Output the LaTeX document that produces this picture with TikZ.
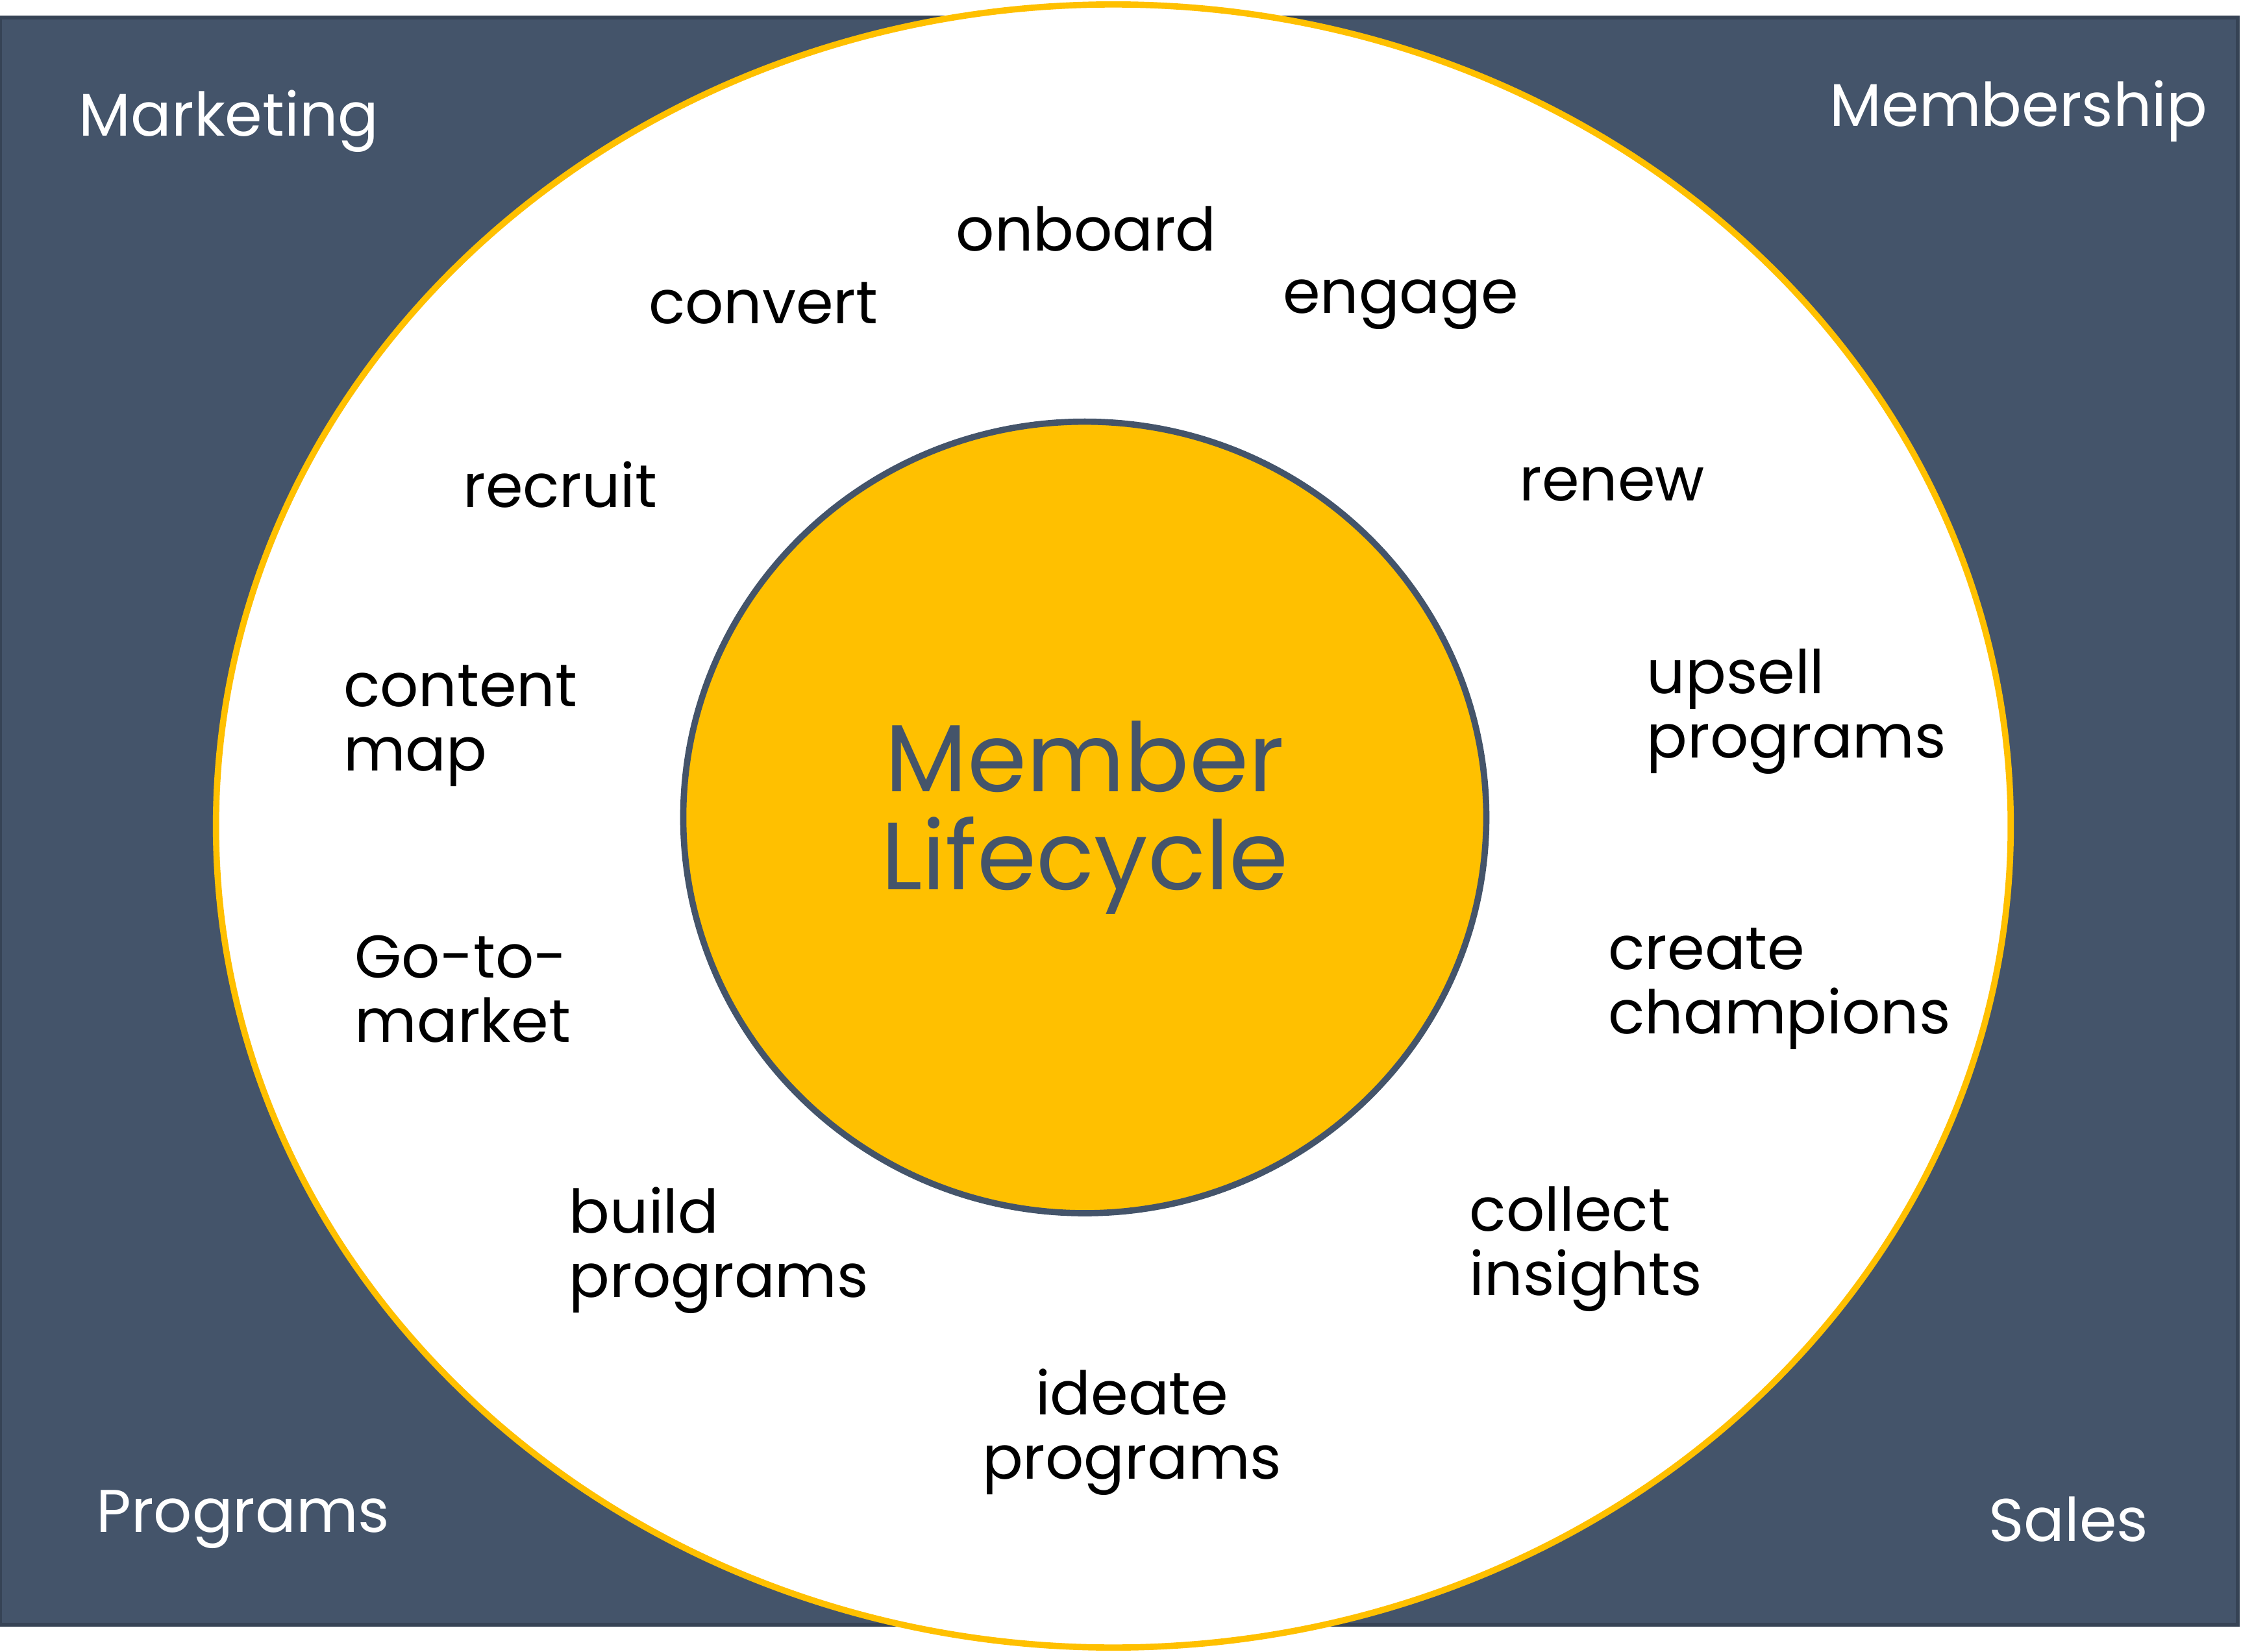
\documentclass[tikz,border=0pt]{standalone}
\usepackage{fontspec}
\setmainfont{Poppins}
\usetikzlibrary{positioning, shapes.geometric}
\definecolor{slate}{HTML}{44546A}
\definecolor{gold}{HTML}{FFC000}
\begin{document}
\begin{tikzpicture}[x=.02cm, y=-.02cm,
  phase/.style={font=\fontsize{24}{25.6}\selectfont, align=left, inner sep=0pt},
  corner/.style={phase, text=white}]
	\useasboundingbox (0,0) rectangle (1568,1156);
	\node[draw=slate!80!black, fill=slate, line width=1.5pt, minimum width=31.32cm, minimum height=22.5cm, inner sep=0pt] (bg) at (783,574.5) {};
	\node[draw=gold, fill=white, line width=2.5pt, ellipse, minimum width=25.12cm, minimum height=23cm, inner sep=0pt] (outer) at (779,578) {};
	\node[draw=slate, fill=gold, line width=2.5pt, ellipse, minimum width=11.24cm, minimum height=11.08cm, inner sep=0pt, align=center, text=slate, font=\fontsize{38}{39}\selectfont] (life) at (759,572) {Member\\Lifecycle};
%
	\node[corner, anchor=west] (mkt) at (55,85) {Marketing};
	\node[corner, anchor=west] (mem) at (1280,78) {Membership};
	\node[corner, anchor=west] (prg) at (67,1063) {Programs};
	\node[corner, anchor=west] (sal) at (1391,1063) {Sales};
%
	\node[phase] (onboard) at (760,160) {onboard};
	\node[phase] (convert) at (534,212) {convert};
	\node[phase] (engage) at (980,213) {engage};
	\node[phase] (recruit) at (392,339) {recruit};
	\node[phase] (renew) at (1128,339) {renew};
	\node[phase, anchor=west] (content) at (240,508) {content\\map};
	\node[phase, anchor=west] (upsell) at (1152,498) {upsell\\programs};
	\node[phase, anchor=west] (gtm) at (248,692) {Go-to-\\market};
	\node[phase, anchor=west] (champ) at (1125,692) {create\\champions};
	\node[phase, anchor=west] (build) at (398,875) {build\\programs};
	\node[phase, anchor=west] (collect) at (1028,874) {collect\\insights};
	\node[phase, align=center] (ideate) at (792,1002) {ideate\\programs};
\end{tikzpicture}
\end{document}
